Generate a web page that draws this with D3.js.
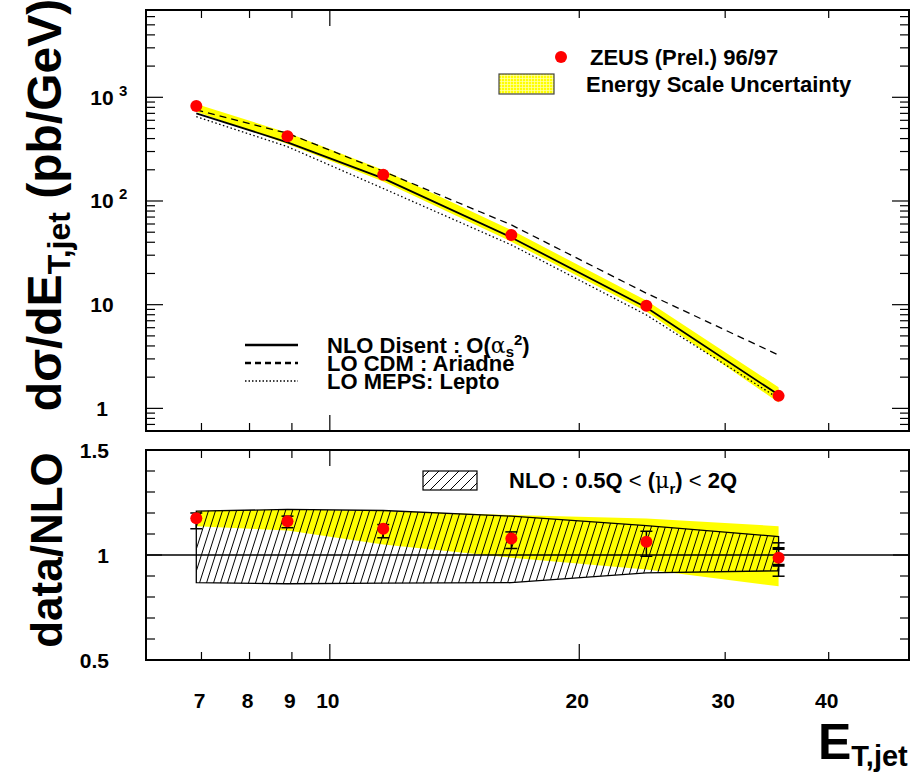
<!DOCTYPE html>
<html>
<head>
<meta charset="utf-8">
<script src="https://cdn.jsdelivr.net/npm/d3@7"></script>
<style>
  body { margin: 0; background: #fff; }
  svg { display: block; }
  text { font-family: "Liberation Sans", Arial, Helvetica, sans-serif; font-weight: bold; fill: #000; }
</style>
</head>
<body>
<svg id="chart" width="922" height="774"></svg>
<script>
// Inclusive jet cross section dσ/dE_T,jet — bin centres (GeV)
const etJet = [6.9, 8.89, 11.6, 16.56, 24.1, 34.8];
// ZEUS (Prel.) 96/97 measurement (pb/GeV)
const zeusXsec = [824, 421, 179, 47, 9.77, 1.32];
// Energy scale uncertainty band (pb/GeV)
const escaleHi = [862, 456, 199, 52.4, 10.98, 1.6];
const escaleLo = [726, 355, 154, 40.5, 8.6, 1.14];
// Theory curves (pb/GeV)
const nloDisent = [701, 368, 165, 44.5, 9.4, 1.35];
const ariadneCdm = [755, 450, 193, 58.8, 12.9, 3.27];
const leptoMeps = [650, 334, 132, 37.7, 7.96, 1.25];

// Ratio data / NLO
const ratio = [1.175, 1.161, 1.125, 1.079, 1.063, 0.987];
const ratioErrLo = [1.125, 1.13, 1.082, 1.031, 0.994, 0.899];
const ratioErrHi = [1.2, 1.185, 1.145, 1.11, 1.113, 1.058];
// inner (statistical) error where it reaches beyond the marker
const ratioStatLo = [null, null, null, null, null, 0.951];
const ratioStatHi = [null, null, null, null, null, 1.031];
// Energy scale band on the ratio
const esRatioHi = [1.209, 1.217, 1.21, 1.19, 1.174, 1.137];
const esRatioLo = [1.137, 1.117, 1.05, 0.987, 0.931, 0.851];
// NLO renormalisation scale band 0.5Q < mu_r < 2Q
const scaleHi = [1.209, 1.217, 1.212, 1.185, 1.14, 1.088];
const scaleLo = [0.868, 0.863, 0.866, 0.868, 0.915, 0.925];

// Axis ticks
const xTickValues = [7, 8, 9, 10, 20, 30, 40];
const xLongTicks = [10];
const yDecadeLabels = [1, 10, 100, 1000];
const ratioTickLabels = [0.5, 1, 1.5];
const ratioMinorTicks = [0.6, 0.7, 0.8, 0.9, 1.1, 1.2, 1.3, 1.4];

const L = 146, R = 909;
const T1 = 10, B1 = 431;
const T2 = 450, B2 = 660;

const svg = d3.select("#chart");
svg.append("rect").attr("width", 922).attr("height", 774).attr("fill", "#fff");

const x = d3.scaleLog().domain([6, 50]).range([L, R]);
const y = d3.scaleLog().domain([0.605, 6950]).range([B1, T1]);
const yr = d3.scaleLinear().domain([0.5, 1.5]).range([B2, T2]);

const defs = svg.append("defs");
// steep hatching for the scale band
const hs = defs.append("pattern").attr("id", "hatchSteep")
  .attr("patternUnits", "userSpaceOnUse").attr("width", 7).attr("height", 22);
hs.append("path").attr("d", "M0,22L7,0M-7,22L0,0M7,22L14,0")
  .attr("stroke", "#000").attr("stroke-width", 1);
// 45 degree hatching for the legend box
const h45 = defs.append("pattern").attr("id", "hatch45")
  .attr("patternUnits", "userSpaceOnUse").attr("width", 10).attr("height", 10);
h45.append("path").attr("d", "M0,10L10,0M-10,10L0,0M10,10L20,0")
  .attr("stroke", "#000").attr("stroke-width", 1);
// yellow grid fill for energy-scale legend box
const yg = defs.append("pattern").attr("id", "yellowGrid")
  .attr("patternUnits", "userSpaceOnUse").attr("width", 3).attr("height", 3);
yg.append("rect").attr("width", 3).attr("height", 3).attr("fill", "#ffff00");
yg.append("path").attr("d", "M0,0.5H3M0.5,0V3").attr("stroke", "#ffffb0").attr("stroke-width", 0.7);

const idx = d3.range(etJet.length);

// ---------------- upper panel ----------------
const upper = svg.append("g");

upper.append("path")
  .attr("d", d3.area().x(i => x(etJet[i])).y0(i => y(escaleLo[i])).y1(i => y(escaleHi[i]))(idx))
  .attr("fill", "#ffff00");

const lineOf = arr => d3.line().x(i => x(etJet[i])).y(i => y(arr[i]))(idx);

upper.append("path").attr("d", lineOf(leptoMeps)).attr("fill", "none")
  .attr("stroke", "#000").attr("stroke-width", 1.3).attr("stroke-dasharray", "1.5,2.5");
upper.append("path").attr("d", lineOf(ariadneCdm)).attr("fill", "none")
  .attr("stroke", "#000").attr("stroke-width", 1.3).attr("stroke-dasharray", "7,5");
upper.append("path").attr("d", lineOf(nloDisent)).attr("fill", "none")
  .attr("stroke", "#000").attr("stroke-width", 1.8);

upper.selectAll("circle.pt").data(idx).join("circle")
  .attr("cx", i => x(etJet[i])).attr("cy", i => y(zeusXsec[i])).attr("r", 6)
  .attr("fill", "#ff0000");

// ---------------- lower panel ----------------
const lower = svg.append("g");

lower.append("path")
  .attr("d", d3.area().x(i => x(etJet[i])).y0(i => yr(esRatioLo[i])).y1(i => yr(esRatioHi[i]))(idx))
  .attr("fill", "#ffff00");

const scaleBand = idx.map(i => [x(etJet[i]), yr(scaleHi[i])])
  .concat(idx.slice().reverse().map(i => [x(etJet[i]), yr(scaleLo[i])]));
lower.append("path").attr("d", "M" + scaleBand.join("L") + "Z")
  .attr("fill", "url(#hatchSteep)").attr("stroke", "#000").attr("stroke-width", 1.3);

lower.append("line").attr("x1", L).attr("x2", R).attr("y1", yr(1)).attr("y2", yr(1))
  .attr("stroke", "#000").attr("stroke-width", 1.5);

// error bars
const eb = lower.append("g").attr("stroke", "#000");
idx.forEach(i => {
  const cx = x(etJet[i]);
  eb.append("line").attr("x1", cx).attr("x2", cx)
    .attr("y1", yr(ratioErrLo[i])).attr("y2", yr(ratioErrHi[i])).attr("stroke-width", 1.5);
  [ratioErrLo[i], ratioErrHi[i]].forEach(v => {
    eb.append("line").attr("x1", cx - 6).attr("x2", cx + 6)
      .attr("y1", yr(v)).attr("y2", yr(v)).attr("stroke-width", 1.5);
  });
  [ratioStatLo[i], ratioStatHi[i]].filter(v => v != null).forEach(v => {
    eb.append("line").attr("x1", cx - 6).attr("x2", cx + 6)
      .attr("y1", yr(v)).attr("y2", yr(v)).attr("stroke-width", 3);
  });
});

lower.selectAll("circle.pt").data(idx).join("circle")
  .attr("cx", i => x(etJet[i])).attr("cy", i => yr(ratio[i])).attr("r", 6)
  .attr("fill", "#ff0000");

// ---------------- ticks ----------------
function ticksX(yEdge, dir, longList) {
  const g = svg.append("g").attr("stroke", "#000").attr("stroke-width", 1.2);
  xTickValues.forEach(v => {
    const len = longList.includes(v) ? 16 : 8;
    g.append("line").attr("x1", x(v)).attr("x2", x(v))
      .attr("y1", yEdge).attr("y2", yEdge + dir * len);
  });
}
ticksX(T1, 1, xLongTicks);
ticksX(B1, -1, xLongTicks);
ticksX(T2, 1, xLongTicks);
ticksX(B2, -1, [10, 20]);

const yTicksAll = y.ticks();
const ytg = svg.append("g").attr("stroke", "#000").attr("stroke-width", 1.2);
yTicksAll.forEach(v => {
  const major = Math.abs(Math.log10(v) - Math.round(Math.log10(v))) < 1e-9;
  const len = major ? 17 : 9;
  const yy = y(v);
  if (yy < T1 || yy > B1) return;
  ytg.append("line").attr("x1", L).attr("x2", L + len).attr("y1", yy).attr("y2", yy);
  ytg.append("line").attr("x1", R).attr("x2", R - len).attr("y1", yy).attr("y2", yy);
});
ratioMinorTicks.concat(ratioTickLabels).forEach(v => {
  const len = ratioTickLabels.includes(v) ? 16 : 9;
  const yy = yr(v);
  ytg.append("line").attr("x1", L).attr("x2", L + len).attr("y1", yy).attr("y2", yy);
  ytg.append("line").attr("x1", R).attr("x2", R - len).attr("y1", yy).attr("y2", yy);
});

// frames
svg.append("rect").attr("x", L).attr("y", T1).attr("width", R - L).attr("height", B1 - T1)
  .attr("fill", "none").attr("stroke", "#000").attr("stroke-width", 2);
svg.append("rect").attr("x", L).attr("y", T2).attr("width", R - L).attr("height", B2 - T2)
  .attr("fill", "none").attr("stroke", "#000").attr("stroke-width", 2);

// ---------------- tick labels ----------------
xTickValues.forEach(v => {
  svg.append("text").attr("x", x(v) - 2).attr("y", 708).attr("text-anchor", "middle")
    .style("font-size", "21px").text(v);
});

yDecadeLabels.forEach(v => {
  const yy = y(v) + 7.5;
  if (v < 100) {
    svg.append("text").attr("x", 102).attr("y", yy).attr("text-anchor", "middle")
      .style("font-size", "21px").text(v);
  } else {
    svg.append("text").attr("x", 102).attr("y", yy).attr("text-anchor", "middle")
      .style("font-size", "21px").text("10");
    svg.append("text").attr("x", 119).attr("y", yy - 9).style("font-size", "15px")
      .text(Math.round(Math.log10(v)));
  }
});

ratioTickLabels.forEach(v => {
  svg.append("text").attr("x", 109).attr("y", yr(v) + 7.5).attr("text-anchor", "end")
    .style("font-size", "21px").text(v);
});

// ---------------- axis titles ----------------
const yt = svg.append("text").attr("transform", "translate(61,205) rotate(-90)")
  .attr("text-anchor", "middle").style("font-size", "48px");
yt.append("tspan").text("dσ/dE");
yt.append("tspan").attr("dy", 9).style("font-size", "32px").text("T,jet");
yt.append("tspan").attr("dy", -9).text(" (pb/GeV)");

svg.append("text").attr("transform", "translate(62,550) rotate(-90)")
  .attr("text-anchor", "middle").style("font-size", "44px").text("data/NLO");

const xt = svg.append("text").attr("x", 818).attr("y", 759).style("font-size", "50px");
xt.append("tspan").text("E");
xt.append("tspan").attr("dy", 7).style("font-size", "29px").text("T,jet");

// ---------------- legends ----------------
svg.append("circle").attr("cx", 561).attr("cy", 57).attr("r", 6).attr("fill", "#ff0000");
svg.append("text").attr("x", 590).attr("y", 65).style("font-size", "22px").text("ZEUS (Prel.) 96/97");
svg.append("rect").attr("x", 499).attr("y", 74).attr("width", 55).attr("height", 20)
  .attr("fill", "url(#yellowGrid)").attr("stroke", "#444").attr("stroke-width", 1.2);
svg.append("text").attr("x", 586).attr("y", 92).style("font-size", "22px").text("Energy Scale Uncertainty");

const legLines = [
  { y: 345, dash: null, w: 2.4 },
  { y: 363, dash: "6,4", w: 2.4 },
  { y: 381, dash: "1.5,2", w: 1.6 }
];
legLines.forEach(d => {
  const ln = svg.append("line").attr("x1", 245).attr("x2", 298).attr("y1", d.y).attr("y2", d.y)
    .attr("stroke", "#000").attr("stroke-width", d.w);
  if (d.dash) ln.attr("stroke-dasharray", d.dash);
});
// the three model entries set as one text block, one row per line style
const lg = svg.append("text").attr("x", 327).attr("y", 352.5).style("font-size", "22px");
lg.append("tspan").text("NLO Disent : O(");
lg.append("tspan").style("font-weight", "normal").style("font-family", "'DejaVu Serif', serif").text("α");
lg.append("tspan").attr("dy", 4).style("font-size", "15px").text("s");
lg.append("tspan").attr("dy", -12).style("font-size", "15px").text("2");
lg.append("tspan").attr("dy", 8).text(")");
lg.append("tspan").attr("x", 327).attr("dy", 18).text("LO CDM : Ariadne");
lg.append("tspan").attr("x", 327).attr("dy", 18).text("LO MEPS: Lepto");

svg.append("rect").attr("x", 423).attr("y", 471).attr("width", 54).attr("height", 19)
  .attr("fill", "url(#hatch45)").attr("stroke", "#000").attr("stroke-width", 1.2);
const t2 = svg.append("text").attr("x", 509).attr("y", 488).style("font-size", "22px");
t2.append("tspan").text("NLO : 0.5Q ");
t2.append("tspan").style("font-weight", "normal").text("<");
t2.append("tspan").text(" (");
t2.append("tspan").style("font-weight", "normal").style("font-family", "'DejaVu Serif', serif").text("μ");
t2.append("tspan").attr("dy", 6).style("font-size", "15px").text("r");
t2.append("tspan").attr("dy", -6).text(") ");
t2.append("tspan").style("font-weight", "normal").text("<");
t2.append("tspan").text(" 2Q");
</script>
</body>
</html>
